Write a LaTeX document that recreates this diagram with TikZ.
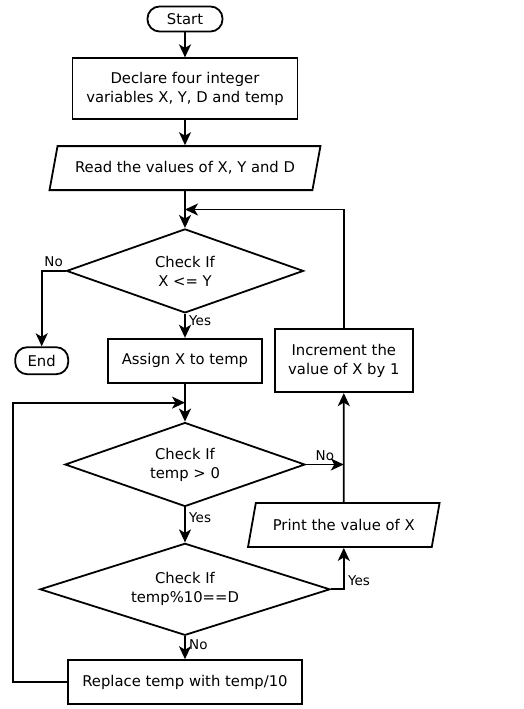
\documentclass[tikz,border=0pt]{standalone}
\usepackage{fontspec}
\setmainfont{DejaVu Sans}
\usetikzlibrary{shapes.geometric,arrows.meta,calc,positioning}

\begin{document}
\begin{tikzpicture}[x=1pt,y=1pt,line width=1.8pt,auto,
    >={Stealth[length=13pt,width=12pt,inset=3.5pt]},
    font=\fontsize{14.8}{19}\selectfont,
    term/.style={draw,rounded corners=12pt,minimum height=25pt},
    proc/.style={draw,rectangle,align=center,minimum height=44pt},
    io/.style={draw,trapezium,trapezium left angle=70,trapezium right angle=110,
      trapezium stretches=true,minimum height=44pt},
    chk/.style={draw,diamond,aspect=3,align=center,inner sep=0pt},
    lbl/.style={font=\fontsize{13.5}{16}\selectfont}]
        \useasboundingbox (0,0) rectangle (524,-709);
        \node[term,minimum width=75pt] (start) at (185,-19) {Start};
        \node[proc,minimum width=225pt,minimum height=61pt] (decl) [below=25pt of start]
          {Declare four integer\\variables X, Y, D and temp};
        \node[io,minimum width=271pt] (read) [below=25pt of decl] {Read the values of X, Y and D};
        \node[chk,minimum width=237pt,minimum height=84pt] (chk1) [below=37pt of read] {Check If\\X <= Y};
        \node[proc,minimum width=154pt] (assign) [below=24pt of chk1] {Assign X to temp};
        \node[term,minimum width=53pt,minimum height=27pt] (stop) [left=38pt of assign] {End};
        \node[proc,minimum width=138pt,minimum height=63pt] (incr) [right=11pt of assign]
          {Increment the\\value of X by 1};
        \node[chk,minimum width=240pt,minimum height=84pt] (chk2) [below=38pt of assign] {Check If\\temp > 0};
        \node[io,minimum width=192pt] (print) [below=109pt of incr] {Print the value of X};
        \node[chk,minimum width=290pt,minimum height=92pt] (chk3) [below=35pt of chk2] {Check If\\temp\%10==D};
        \node[proc,minimum width=234pt] (repl) [below=23pt of chk3] {Replace temp with temp/10};
        \coordinate (j1) at ($(read.south)!0.5!(chk1.north)$);
        \coordinate (j2) at ($(assign.south)!0.5!(chk2.north)$);
          \path[->]
            (start) edge (decl)
            (decl) edge (read)
            (read) edge (chk1)
            (chk1) edge node[lbl,pos=0.3] {Yes} (assign)
            (assign) edge (chk2)
            (chk2) edge node[lbl,pos=0.3] {Yes} (chk3)
            (chk3) edge node[lbl,pos=0.35] {No} (repl)
            (print) edge (incr);
        \draw[->] (incr.north) |- (j1);
        \draw[->] (chk1.west) -| node[lbl,pos=0.25,above] {No} (stop.north);
        \draw[->] (repl.west) -- ++(-54,0) |- (j2);
        \draw[->] (chk2.east) -- node[lbl,above] {No} (chk2.east -| incr.south);
        \draw[->] (chk3.east) -| node[lbl,pos=0.6,right] {Yes} (print.south);
    \end{tikzpicture}
\end{document}
